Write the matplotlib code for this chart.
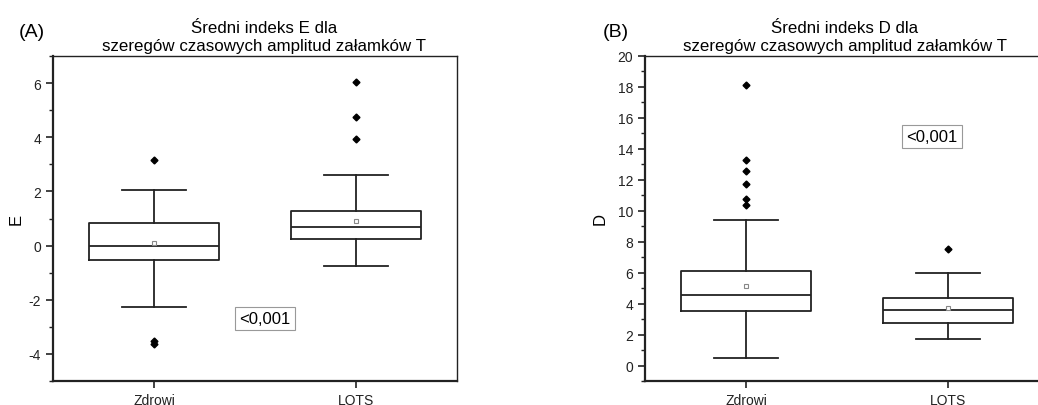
import matplotlib
matplotlib.use("Agg")
import matplotlib.pyplot as plt
from matplotlib.ticker import MultipleLocator

plt.rcParams['font.family'] = ['Liberation Sans', 'DejaVu Sans']
plt.rcParams['axes.unicode_minus'] = False

categories = ["Zdrowi", "LQTS"]

# Panel A: E index
e_q1 = [-0.54, 0.26]
e_med = [0.0, 0.67]
e_q3 = [0.85, 1.28]
e_whislo = [-2.27, -0.74]
e_whishi = [2.07, 2.59]
e_mean = [0.11, 0.92]
e_fliers = [[3.15, -3.53, -3.64], [6.05, 4.74, 3.94]]

# Panel B: D index
d_q1 = [3.51, 2.75]
d_med = [4.56, 3.61]
d_q3 = [6.11, 4.35]
d_whislo = [0.50, 1.72]
d_whishi = [9.38, 5.98]
d_mean = [5.12, 3.74]
d_fliers = [[18.11, 13.29, 12.56, 11.72, 10.75, 10.35], [7.53]]

p_text = "<0,001"

W, H = 1038, 406
fig = plt.figure(figsize=(W / 100, H / 100), dpi=100)

def make_stats(q1, med, q3, lo, hi, mean, fl):
    return [dict(q1=q1[i], med=med[i], q3=q3[i], whislo=lo[i], whishi=hi[i],
                 mean=mean[i], fliers=fl[i], label=categories[i]) for i in range(len(categories))]

def draw(ax, stats, ylim, major, minor, ylabel, title, letter, ptxt_xy, title_x, label_x, letter_x):
    lc = '#222222'
    ax.bxp(stats, positions=[1, 2], widths=0.64, showmeans=True, meanline=False,
           capwidths=0.32,
           boxprops=dict(color=lc, linewidth=1.3),
           medianprops=dict(color=lc, linewidth=1.3),
           whiskerprops=dict(color=lc, linewidth=1.3),
           capprops=dict(color=lc, linewidth=1.3),
           flierprops=dict(marker='D', markerfacecolor='black', markeredgecolor='black', markersize=3.5),
           meanprops=dict(marker='s', markerfacecolor='white', markeredgecolor='#888888',
                          markersize=3.5, markeredgewidth=0.8))
    ax.set_xlim(0.5, 2.5)
    ax.set_ylim(*ylim)
    ax.yaxis.set_major_locator(MultipleLocator(major))
    ax.yaxis.set_minor_locator(MultipleLocator(minor))
    ax.tick_params(axis='both', which='major', direction='out', length=5, width=1.2,
                   labelsize=10, colors='#222222')
    ax.tick_params(axis='y', which='minor', direction='out', length=3, width=1.0, colors='#222222')
    ax.set_xticks([1, 2])
    ax.set_xticklabels(categories)
    for s in ['left', 'bottom']:
        ax.spines[s].set_linewidth(1.6)
        ax.spines[s].set_color('#222222')
    for s in ['top', 'right']:
        ax.spines[s].set_linewidth(1.0)
        ax.spines[s].set_color('#222222')
    ax.set_ylabel(ylabel, fontsize=12)
    ax.yaxis.set_label_coords(label_x, 0.5)
    ax.set_title(title, fontsize=12.2, linespacing=1.25, pad=4, x=title_x)
    ax.text(letter_x, 1.075, letter, transform=ax.transAxes, fontsize=14, va='center', ha='left')
    ax.text(ptxt_xy[0], ptxt_xy[1], p_text, fontsize=12, ha='center', va='center',
            bbox=dict(boxstyle='square,pad=0.25', facecolor='white', edgecolor='#999999', linewidth=0.8))

axA = fig.add_axes([53 / W, 1 - 382 / H, 404 / W, 325 / H])
axB = fig.add_axes([645 / W, 1 - 382 / H, 404 / W, 325 / H])

draw(axA, make_stats(e_q1, e_med, e_q3, e_whislo, e_whishi, e_mean, e_fliers),
     (-5, 7), 2, 1, "E", "Średni indeks E dla\nszeregów czasowych amplitud załamków T", "(A)",
     (1.55, -2.69), 0.522, -0.072, -0.084)
draw(axB, make_stats(d_q1, d_med, d_q3, d_whislo, d_whishi, d_mean, d_fliers),
     (-1, 20), 2, 1, "D", "Średni indeks D dla\nszeregów czasowych amplitud załamków T", "(B)",
     (1.92, 14.82), 0.495, -0.092, -0.104)

fig.savefig("out.png", dpi=100)
